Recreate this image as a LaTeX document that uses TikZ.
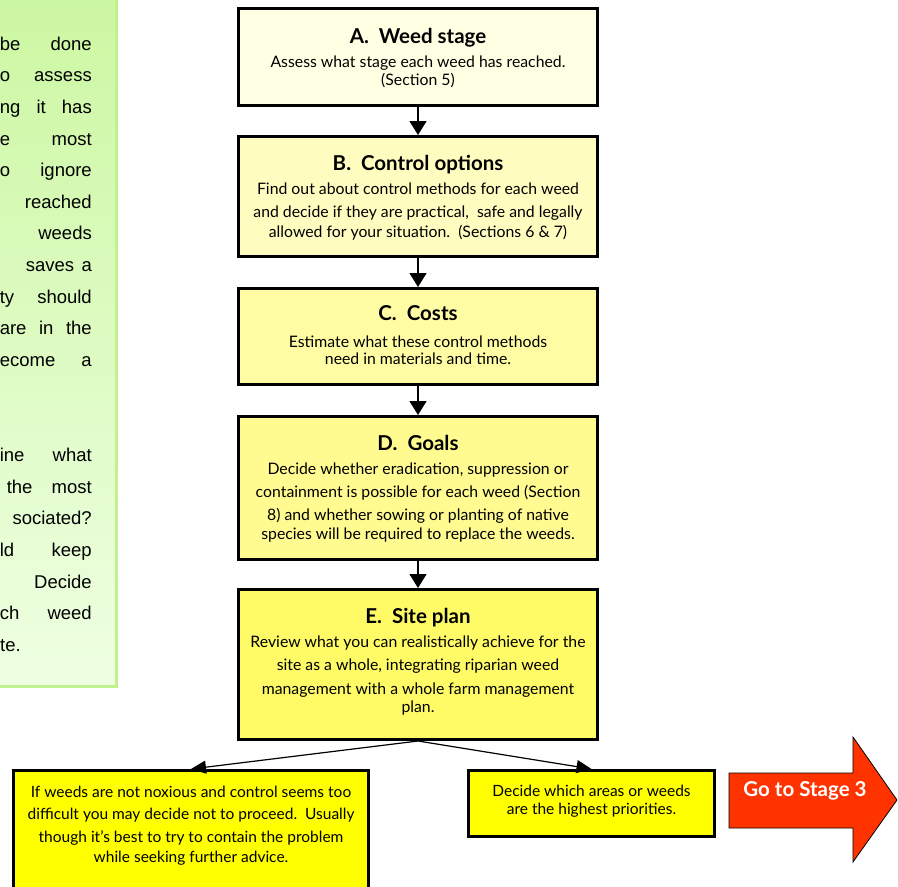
\documentclass[tikz,border=0pt]{standalone}
\usepackage{fontspec}
\setmainfont{Lato}
\newfontfamily\panelfont{Liberation Sans}
\usetikzlibrary{arrows.meta}
\definecolor{panelTop}{HTML}{CCF7A2}
\definecolor{panelBot}{HTML}{EEFFE2}
\definecolor{panelEdge}{HTML}{C2F28E}
\definecolor{fillA}{HTML}{FFFFE4}
\definecolor{fillB}{HTML}{FFFCC0}
\definecolor{fillC}{HTML}{FFFCA4}
\definecolor{fillD}{HTML}{FFFB90}
\definecolor{fillE}{HTML}{FFFB66}
\definecolor{fillOut}{HTML}{FFFF00}
\definecolor{goRed}{HTML}{FF3300}
\begin{document}
\begin{tikzpicture}[x=1pt,y=-1pt,
  stepbox/.style={draw=black, line width=3pt, rectangle, inner sep=0pt},
  flowarrow/.style={-{Triangle[width=17pt,length=14pt]}, line width=1.5pt},
  splitarrow/.style={-{Triangle[width=13pt,length=15pt]}, line width=1.2pt},
  titletext/.style={anchor=base, inner sep=0pt, font=\fontsize{20.5}{24}\selectfont\bfseries},
  bodytext/.style={anchor=base, inner sep=0pt, font=\fontsize{15.8}{18}\selectfont},
  outtext/.style={anchor=base, inner sep=0pt, font=\fontsize{15.5}{18}\selectfont},
  paneltext/.style={anchor=base east, inner sep=0pt, font=\panelfont\fontsize{18.5}{22}\selectfont}
]
\useasboundingbox (0,0) rectangle (898,887);

% ---- left green panel ----
\shade[top color=panelTop, bottom color=panelBot] (-5,-5) rectangle (116,686);
\draw[panelEdge, line width=3pt] (-5,-5) rectangle (116,686);
\begin{scope}
\clip (0,0) rectangle (114,684);
\node[paneltext] (p0)  at (92,50)    {\makebox[92pt][s]{be done}};
\node[paneltext] (p1)  at (92,81.7)  {\makebox[92pt][s]{o assess}};
\node[paneltext] (p2)  at (92,113.3) {\makebox[92pt][s]{ng it has}};
\node[paneltext] (p3)  at (92,145)   {\makebox[92pt][s]{e most}};
\node[paneltext] (p4)  at (92,176.6) {\makebox[92pt][s]{o ignore}};
\node[paneltext] (p5)  at (92,208.3) {reached};
\node[paneltext] (p6)  at (92,239.9) {weeds};
\node[paneltext] (p7)  at (92,271.5) {\makebox[66pt][s]{saves a}};
\node[paneltext] (p8)  at (92,303.2) {\makebox[92pt][s]{ty should}};
\node[paneltext] (p9)  at (92,334.8) {\makebox[92pt][s]{are in the}};
\node[paneltext] (p10) at (92,366.5) {\makebox[92pt][s]{ecome a}};
\node[paneltext] (p13) at (92,461.5) {\makebox[92pt][s]{ine what}};
\node[paneltext] (p14) at (92,493.1) {\makebox[85pt][s]{the most}};
\node[paneltext] (p15) at (92,524.8) {sociated?};
\node[paneltext] (p16) at (92,556.4) {\makebox[92pt][s]{ld keep}};
\node[paneltext] (p17) at (92,588.1) {Decide};
\node[paneltext] (p18) at (92,619.7) {\makebox[92pt][s]{ch weed}};
\node[paneltext, anchor=base west] (p19) at (0,651.4) {te.};
\end{scope}

% ---- flow boxes ----
\node[stepbox, fill=fillA, minimum width=359pt, minimum height=97pt]  (A) at (418,57)    {};
\node[stepbox, fill=fillB, minimum width=359pt, minimum height=120pt] (B) at (418,196.5) {};
\node[stepbox, fill=fillC, minimum width=359pt, minimum height=96pt]  (C) at (418,336.5) {};
\node[stepbox, fill=fillD, minimum width=359pt, minimum height=143pt] (D) at (418,488)   {};
\node[stepbox, fill=fillE, minimum width=359pt, minimum height=150pt] (E) at (418,664.5) {};

\node[titletext] (At) at (418,43) {A.\ \ Weed stage};
\node[bodytext] (A1) at (418,67) {Assess what stage each weed has reached.};
\node[bodytext] (A2) at (418,85) {(Section 5)};

\node[titletext] (Bt) at (418,170) {B.\ \ Control options};
\node[bodytext] (B1) at (418,194) {Find out about control methods for each weed};
\node[bodytext] (B2) at (418,217) {and decide if they are practical,\ \ safe and legally};
\node[bodytext] (B3) at (418,237) {allowed for your situation.\ \ (Sections 6 \& 7)};

\node[titletext] (Ct) at (418,320) {C.\ \ Costs};
\node[bodytext] (C1) at (418,347) {Estimate what these control methods};
\node[bodytext] (C2) at (418,364) {need in materials and time.};

\node[titletext] (Dt) at (418,450) {D.\ \ Goals};
\node[bodytext] (D1) at (418,474) {Decide whether eradication, suppression or};
\node[bodytext] (D2) at (418,497) {containment is possible for each weed (Section};
\node[bodytext] (D3) at (418,520) {8) and whether sowing or planting of native};
\node[bodytext] (D4) at (418,539) {species will be required to replace the weeds.};

\node[titletext] (Et) at (418,623) {E.\ \ Site plan};
\node[bodytext] (E1) at (418,647) {Review what you can realistically achieve for the};
\node[bodytext] (E2) at (418,670) {site as a whole, integrating riparian weed};
\node[bodytext] (E3) at (418,694) {management with a whole farm management};
\node[bodytext] (E4) at (418,712) {plan.};

\draw[flowarrow] (A.south) -- (B.north);
\draw[flowarrow] (B.south) -- (C.north);
\draw[flowarrow] (C.south) -- (D.north);
\draw[flowarrow] (D.south) -- (E.north);

% ---- outcome boxes ----
\node[stepbox, fill=fillOut, minimum width=355pt, minimum height=150pt] (L) at (191,845.5) {};
\node[stepbox, fill=fillOut, minimum width=246pt, minimum height=66pt]  (R) at (591.5,803.5) {};

\node[outtext] (L1) at (191,797) {If weeds are not noxious and control seems too};
\node[outtext] (L2) at (191,819) {difficult you may decide not to proceed.\ \ Usually};
\node[outtext] (L3) at (191,842) {though it’s best to try to contain the problem};
\node[outtext] (L4) at (191,862) {while seeking further advice.};

\node[outtext] (R1) at (591.5,796) {Decide which areas or weeds};
\node[outtext] (R2) at (591.5,814) {are the highest priorities.};

\draw[splitarrow] (E.south) -- (L.north);
\draw[splitarrow] (E.south) -- (R.north);

% ---- go to stage 3 arrow ----
\draw[fill=goRed, draw=black, line width=0.8pt]
  (729,773) -- (853,773) -- (853,737) -- (897,800) -- (853,862) -- (853,828) -- (729,828) -- cycle;
\node[anchor=base, inner sep=0pt, text=white, font=\fontsize{20.5}{24}\selectfont\bfseries] (go) at (805,796) {Go to Stage 3};
\end{tikzpicture}
\end{document}
